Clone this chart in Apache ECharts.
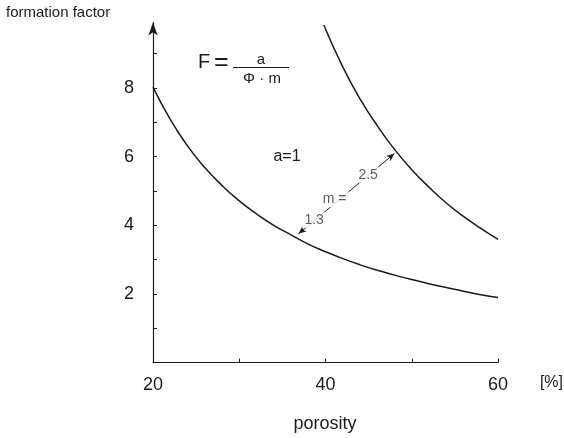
<!DOCTYPE html>
<html><head><meta charset="utf-8">
<script src="https://cdn.jsdelivr.net/npm/echarts@6/dist/echarts.min.js"></script>
<style>html,body{margin:0;padding:0;background:#fff}#c{width:564px;height:438px}</style>
</head><body><div id="c"></div>
<script>
// porosity [%] and formation factor
const porosityM13 = [20, 22, 24, 26, 28, 30, 32, 34, 36, 38, 40, 42, 44, 46, 48, 50, 52, 54, 56, 58, 60];
const factorM13   = [8.02, 7.08, 6.31, 5.68, 5.16, 4.71, 4.33, 4.00, 3.72, 3.45, 3.23, 3.03, 2.85, 2.69, 2.55, 2.42, 2.30, 2.19, 2.08, 1.98, 1.90];
const porosityM25 = [39.8, 42, 44, 46, 48, 50, 52, 54, 56, 58, 60];
const factorM25   = [9.83, 8.61, 7.68, 6.90, 6.21, 5.62, 5.11, 4.65, 4.26, 3.91, 3.59];
const xTickValues = [20, 30, 40, 50, 60];
const xLabelValues = [20, 40, 60];
const yTickValues = [1, 2, 3, 4, 5, 6, 7, 8, 9];
const yLabelValues = [2, 4, 6, 8];
const mArrowFrom = [36.86, 3.75];
const mArrowTo = [47.99, 6.09];
const mLabels = [[38.68, 4.16, '1.3'], [41.06, 4.76, 'm ='], [44.94, 5.46, '2.5']];

const FONT = '"Liberation Sans", Arial, Helvetica, sans-serif';
const INK = '#1a1a1a';
const chart = echarts.init(document.getElementById('c'), null, {renderer: 'canvas'});

function txt(text, x, y, size, align) {
  return {type: 'text', x: x, y: y, z: 50,
    style: {text: text, fontSize: size, fontFamily: FONT, fill: INK, align: align || 'left', verticalAlign: 'middle'}};
}

chart.setOption({
  animation: false,
  backgroundColor: '#fff',
  grid: {left: 153, right: 66, top: 22.6, bottom: 75.3, containLabel: false},
  xAxis: {
    type: 'value', min: 20, max: 60, interval: 10,
    axisLine: {show: true, onZero: false, lineStyle: {color: INK, width: 1.2}},
    axisTick: {show: true, inside: true, length: 4, customValues: xTickValues, lineStyle: {color: INK}},
    axisLabel: {customValues: xLabelValues, margin: 13, fontSize: 18, fontFamily: FONT, color: INK},
    splitLine: {show: false}
  },
  yAxis: {
    type: 'value', min: 0, max: 9.9, interval: 1,
    axisLine: {show: true, onZero: false, symbol: ['none', 'arrow'], symbolSize: [7, 13], lineStyle: {color: INK, width: 1.2}},
    axisTick: {show: true, inside: true, length: 4, customValues: yTickValues, lineStyle: {color: INK}},
    axisLabel: {customValues: yLabelValues, margin: 19, fontSize: 18, fontFamily: FONT, color: INK, padding: [2, 0, 0, 0]},
    splitLine: {show: false}
  },
  series: [
    {type: 'line', data: porosityM13.map((x, i) => [x, factorM13[i]]), smooth: true, showSymbol: false, symbol: 'none',
      lineStyle: {color: INK, width: 1.5}, z: 3},
    {type: 'line', data: porosityM25.map((x, i) => [x, factorM25[i]]), smooth: true, showSymbol: false, symbol: 'none',
      lineStyle: {color: INK, width: 1.5}, z: 3},
    {type: 'line', data: [], z: 4,
      markLine: {silent: true, symbol: ['arrow', 'arrow'], symbolSize: [5, 8],
        lineStyle: {color: INK, width: 1, type: 'solid'}, label: {show: false},
        data: [[{coord: mArrowFrom}, {coord: mArrowTo}]]}},
    {type: 'scatter', data: mLabels, symbolSize: 0, z: 10,
      label: {show: true, position: 'inside', formatter: p => p.value[2], fontSize: 14, fontFamily: FONT,
        color: '#333', backgroundColor: '#fff', padding: [1, 2]}}
  ],
  graphic: [
    txt('formation factor', 6, 13, 15),
    txt('porosity', 325, 424, 18, 'center'),
    txt('[%]', 563, 383, 16, 'right'),
    txt('F', 198, 62, 20),
    txt('=', 214, 63, 25),
    txt('a', 261, 60, 15, 'center'),
    {type: 'line', z: 50, shape: {x1: 233, y1: 67.5, x2: 289, y2: 67.5}, style: {stroke: INK, lineWidth: 1}},
    txt('\u03A6 \u00B7 m', 262, 79, 15, 'center'),
    txt('a=1', 287, 157, 16, 'center')
  ]
});
</script></body></html>
